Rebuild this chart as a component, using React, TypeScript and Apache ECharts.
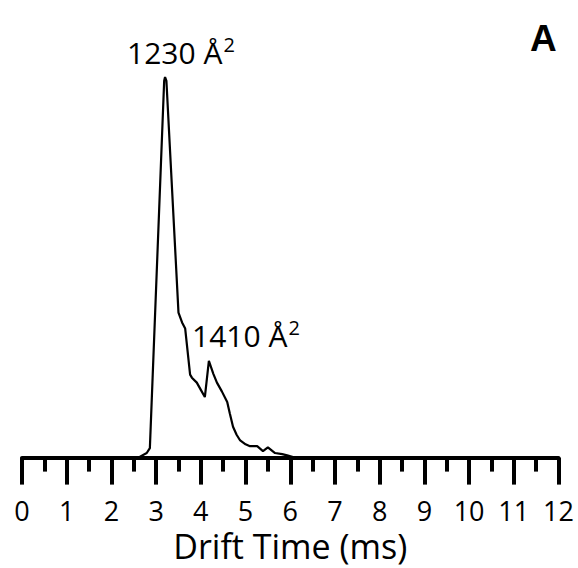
import React, { useEffect, useRef } from "react";
import * as echarts from "echarts";

const driftTimes = [2.6, 2.79, 2.86, 3.18, 3.2, 3.23, 3.5, 3.58, 3.65, 3.76, 3.8, 3.91, 4.0, 4.09, 4.18, 4.28, 4.36, 4.47, 4.59, 4.65, 4.72, 4.8, 4.88, 5.0, 5.1, 5.26, 5.39, 5.5, 5.66, 5.82, 5.93, 6.1];
const intensities = [0, 1.2, 2.5, 99, 100, 99, 38.1, 35.5, 33.9, 21.8, 21.0, 19.7, 17.8, 15.9, 25.4, 22.0, 19.7, 17.4, 14.6, 11.5, 8.1, 6.0, 4.5, 3.5, 3.0, 3.0, 1.7, 2.7, 1.2, 0.9, 0.6, 0];
const xTicks = [0, 12, 1];
const peakLabels = ["1230 Å", "1410 Å"];

const App: React.FC = () => {
  const ref = useRef<HTMLDivElement>(null);
  useEffect(() => {
    if (!ref.current) return;
    const chart = echarts.init(ref.current, null, { renderer: "svg" });
    const font = "'Open Sans', 'Noto Sans', sans-serif";
    chart.setOption({
      animation: false,
      backgroundColor: "#ffffff",
      grid: { left: 22, right: 19.5, top: 77, bottom: 103.5 },
      xAxis: {
        type: "value",
        min: xTicks[0],
        max: xTicks[1],
        interval: xTicks[2],
        name: "Drift Time (ms)",
        nameLocation: "middle",
        nameGap: 68,
        nameTextStyle: { fontFamily: font, fontSize: 34, color: "#000", lineHeight: 30 },
        axisLine: { lineStyle: { color: "#000", width: 4 } },
        axisTick: { show: true, length: 27, lineStyle: { color: "#000", width: 4 } },
        minorTick: { show: true, splitNumber: 2, length: 14, lineStyle: { color: "#000", width: 4 } },
        axisLabel: { fontFamily: font, fontSize: 27, color: "#000", margin: 42, lineHeight: 22 },
        splitLine: { show: false },
        minorSplitLine: { show: false },
      },
      yAxis: { type: "value", min: 0, max: 100, show: false },
      series: [
        {
          type: "line",
          data: driftTimes.map((t, i) => [t, intensities[i]]),
          symbol: "none",
          clip: false,
          lineStyle: { color: "#000", width: 2.2 },
          z: 1,
        },
      ],
      graphic: [
        {
          type: "text",
          left: 127,
          top: 34,
          style: {
            text: `{n|${peakLabels[0]}}{s|2}`,
            rich: {
              n: { fontFamily: font, fontSize: 30, fill: "#000", lineHeight: 36 },
              s: { fontFamily: font, fontSize: 20, fill: "#000", verticalAlign: "top", lineHeight: 36, padding: [0, 0, 14, 1] },
            },
          },
        },
        {
          type: "text",
          left: 192,
          top: 317,
          style: {
            text: `{n|${peakLabels[1]}}{s|2}`,
            rich: {
              n: { fontFamily: font, fontSize: 30, fill: "#000", lineHeight: 36 },
              s: { fontFamily: font, fontSize: 20, fill: "#000", verticalAlign: "top", lineHeight: 36, padding: [0, 0, 14, 1] },
            },
          },
        },
        {
          type: "text",
          left: 530,
          top: 20,
          style: { text: "A", fontFamily: "'Liberation Sans', Arial, sans-serif", fontWeight: "bold", fontSize: 37, fill: "#000" },
        },
      ],
    });
    return () => chart.dispose();
  }, []);
  return <div ref={ref} style={{ width: 578, height: 568, position: "absolute", left: 0, top: 0 }} />;
};

export default App;
